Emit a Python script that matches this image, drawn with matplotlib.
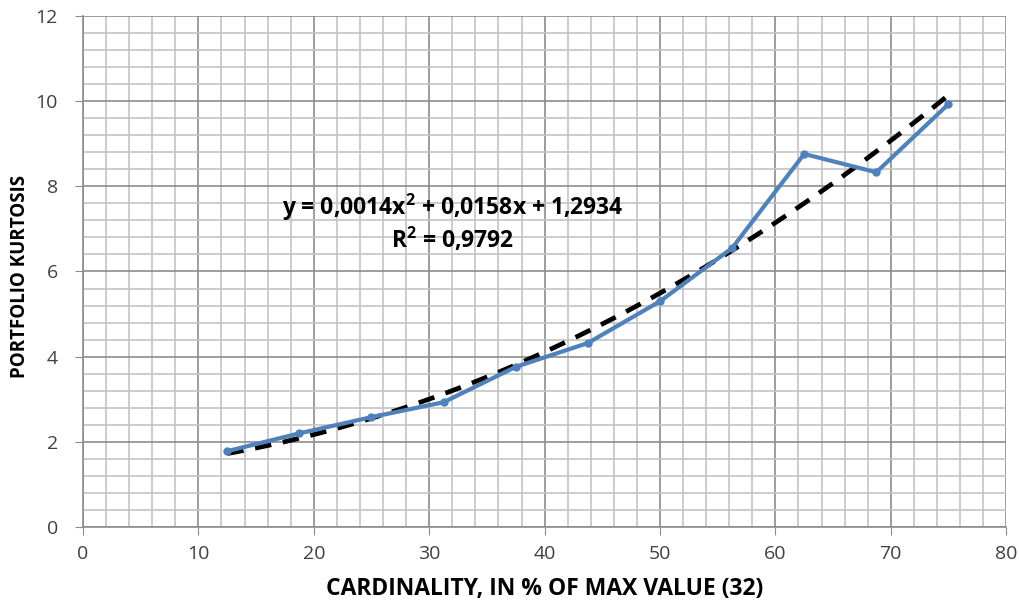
import numpy as np
import matplotlib
matplotlib.use('Agg')
import matplotlib.pyplot as plt
from matplotlib.ticker import MultipleLocator

# cardinality in % of max value (32) and portfolio kurtosis
card = [12.5, 18.75, 25, 31.25, 37.5, 43.75, 50, 56.25, 62.5, 68.75, 75]
kurt = [1.78, 2.2, 2.58, 2.93, 3.76, 4.32, 5.3, 6.55, 8.76, 8.33, 9.93]

eq_text = 'y = 0,0014x$^2$ + 0,0158x + 1,2934'
r2_text = 'R$^2$ = 0,9792'

plt.rcParams['font.family'] = ['Open Sans', 'DejaVu Sans']
plt.rcParams['mathtext.fontset'] = 'custom'
plt.rcParams['mathtext.rm'] = 'Open Sans:bold'

fig = plt.figure(figsize=(10.2, 6.04), dpi=100)
ax = fig.add_axes([0.0814, 0.1275, 0.905, 0.846])

# polynomial trend line (order 2)
coef = np.polyfit(card, kurt, 2)
xt = np.linspace(min(card), max(card), 100)
ax.plot(xt, np.polyval(coef, xt), color='black', lw=3.4, ls=(0, (3.5, 2.5)), zorder=3)

ax.plot(card, kurt, color='#4F81BD', lw=3, marker='o', ms=5, zorder=4)

ax.set_xlim(0, 80)
ax.set_ylim(0, 12)
ax.xaxis.set_major_locator(MultipleLocator(10))
ax.xaxis.set_minor_locator(MultipleLocator(2))
ax.yaxis.set_major_locator(MultipleLocator(2))
ax.yaxis.set_minor_locator(MultipleLocator(0.4))
ax.grid(which='major', color='#8c8c8c', lw=1.2)
ax.grid(which='minor', color='#c4c4c4', lw=1.2)
ax.set_axisbelow(True)
ax.tick_params(which='minor', length=0)
ax.tick_params(which='major', length=6, color='#8c8c8c', labelsize=14,
               labelcolor='#404040')
ax.tick_params(axis='y', pad=12)
ax.tick_params(axis='x', pad=7)
for s in ['top', 'right']:
    ax.spines[s].set_visible(False)
for s in ['left', 'bottom']:
    ax.spines[s].set_color('#8c8c8c')
    ax.spines[s].set_linewidth(1.2)

ax.text(32, 7.5, eq_text, ha='center', va='center', fontsize=16.5, fontweight='bold')
ax.text(32, 6.75, r2_text, ha='center', va='center', fontsize=16.5, fontweight='bold')

ax.set_xlabel('CARDINALITY, IN % OF MAX VALUE (32)', fontsize=16.5, fontweight='bold', labelpad=10)
ax.set_ylabel('PORTFOLIO KURTOSIS', fontsize=13.5, fontweight='bold')
ax.yaxis.set_label_coords(-0.057, 0.49)

fig.savefig('out.png', dpi=100)
